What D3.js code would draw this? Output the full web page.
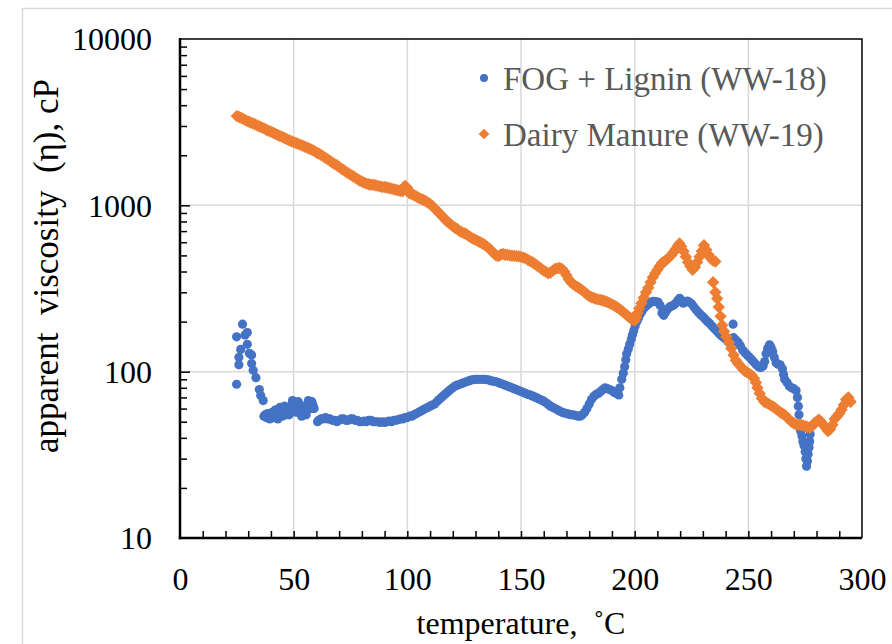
<!DOCTYPE html>
<html>
<head>
<meta charset="utf-8">
<script src="https://cdn.jsdelivr.net/npm/d3@7"></script>
<style>
  body { margin: 0; background: #fff; }
  svg text { font-family: "Liberation Serif", "Times New Roman", serif; white-space: pre; }
</style>
</head>
<body>
<svg id="chart" width="892" height="644"></svg>
<script>
// FOG + Lignin (WW-18): [temperature °C, viscosity cP]
const fogData = [
  [24.9,84],[24.9,162],[25.9,110],[25.9,122],[26.7,136],[27.5,193],[28.6,166],[29.6,172],[29.6,146],[30.5,129],
  [31.5,126],[31.5,112],[32.2,102],[33.4,92],[34.9,78],[35.5,72],[36.6,67],[36.9,54],
  [37.5,55],[38,53],[38.5,56],[39,54],[39.5,52],[40,55],[40.5,57],[41,53],[41.5,56],[42,59],[42.5,54],[43,52],
  [43.5,57],[44,61],[44.5,56],[45,54],[45.5,58],[46,62],[46.5,55],[47,57],[47.5,60],[48,55],[48.5,58],[49,63],
  [49.5,67],[50,65],[50.5,60],[51,57],[51.5,62],[52,66],[52.5,60],[53,56],[53.5,54],[54,58],[54.5,62],[55,57],
  [55.5,55],[56,62],[56.5,67],[57,64],[57.5,60],[58,66],[58.5,63],[59,60],
  [60.5,50],[61,51],[62,52],[63,52],[64,53],[65,52],[66,52],[67,51],[68,51],[69,50],[70,51],[71,52],[72,52],
  [73,51],[74,51],[75,52],[76,52],[77,51],[78,51],[79,50],[80,50],[81,50.5],[82,50],[83,51],[84,51],[85,50],
  [86,50],[87,50],[88,49.5],[89,50],[90,49.5],[91,50],[92,50.5],[93,50],[94,51],[95,51],[96,51.5],[97,52],
  [98,52],[99,53],[100,53],[101,54],[102,54],[103,55],[104,56],[105,57],[106,58],[107,59],[108,60],[109,61],
  [110,62],[111,63],[112,64],[113,66],[114,68],[115,70],[116,72],[117,74],[118,76],[119,78],[120,80],[121,82],
  [122,83],[123,84],[124,85],[125,86],[126,87],[127,88],[128,89],[129,89.5],[130,90],[131,90],[132,90],[133,90],
  [134,90],[135,89.5],[136,89],[137,88],[138,87.5],[139,87],[140,86],[141,85],[142,84],[143,83],[144,82],[145,81],
  [146,80],[147,79],[148,78],[149,77],[150,76],[151,75],[152,74],[153,73],[154,72.5],[155,71.5],[156,70.5],
  [157,69.5],[158,68.5],[159,67.5],[160,66.5],[161,65],[162,63.5],[163,62],[164,61],[165,60],[166,59],[167,58],
  [168,57],[169,56.5],[170,56],[171,55.5],[172,55],[173,55],[174,54.5],[175,54],[176,54],[177,55],[178,57],
  [179,60],[180,64],[181,68],[182,71],[183,73],[184,74],[185,76],[186,78],[187,80],[188,79],[189,78],[190,77],
  [191,75],[192,74],[193,72.5],[193.5,80],[194.3,90],[195,98],[195.6,107],[196.1,118],[196.5,128],[197.2,137],
  [197.8,146],[198.5,156],[199,166],[199.6,176],[200.2,188],[201,200],[201.7,210],[202.5,222],[203.3,232],
  [204.3,242],[205.3,250],[206.3,256],[207.3,262],[208.3,265],[209.3,264],[210.3,262],[211.2,250],[212,225],
  [212.8,218],[213.6,228],[214.5,238],[215.4,245],[216.3,248],[217.2,252],[218.1,258],[219,268],[219.8,276],
  [220.6,268],[221.4,258],[222.2,262],[223.1,266],[224,262],[225,256],[226,246],[227,236],[228,228],[229,220],
  [230,214],[231,207],[232,200],[233,195],[234,188],[235,182],[236,176],[237,170],[238,165],[239,161],[240,157],
  [241,152],[242,147],[243.3,193],[243.5,160],[244.5,155],[245.5,150],[246.5,143],[247.5,135],[248.5,130],
  [249.5,126],[250.5,122],[251.5,118],[252.5,114],[253.5,110],[254.5,107],[255.5,106],[256.5,108],[257.2,115],
  [257.8,128],[258.5,138],[259.3,145],[260,140],[260.7,132],[261.4,122],[262.2,113],[263,111],[264,110],
  [265,104],[265.5,96],[266,90],[267,86],[268,82],[269,80],[270,79],[271,77],[271.6,70],[272,62],[272.3,55],
  [272.6,48],[273,44],[273.6,41],[274,38],[274.5,36],[275,33],[275.3,30],[275.6,27],[276,29],[276.3,32],
  [276.7,35],[277,38],[277.2,42]
];

// Dairy Manure (WW-19): [temperature °C, viscosity cP]
const manureData = [
  [25,3440],[26,3400],[27,3350],[28,3300],[29,3240],[30,3190],[31,3150],[32,3110],[33,3070],[34,3020],[35,2980],
  [36,2940],[37,2900],[38,2850],[39,2810],[40,2770],[41,2730],[42,2690],[43,2650],[44,2610],[45,2580],[46,2540],
  [47,2500],[48,2460],[49,2430],[50,2400],[51,2370],[52,2340],[53,2310],[54,2280],[55,2250],[56,2220],[57,2190],
  [58,2160],[59,2120],[60,2080],[61,2050],[62,2010],[63,1970],[64,1930],[65,1890],[66,1850],[67,1810],[68,1770],
  [69,1740],[70,1700],[71,1660],[72,1630],[73,1590],[74,1560],[75,1530],[76,1500],[77,1470],[78,1440],[79,1410],
  [80,1390],[81,1370],[82,1350],[83,1340],[84,1330],[85,1330],[86,1320],[87,1310],[88,1300],[89,1290],[90,1290],
  [91,1280],[92,1270],[93,1260],[94,1250],[95,1240],[96,1230],[97,1220],[98,1220],[99,1310],[100,1270],[101,1180],
  [102,1170],[103,1150],[104,1130],[105,1110],[106,1090],[107,1080],[108,1060],[109,1040],[110,1020],[111,990],
  [112,960],[113,930],[114,900],[115,870],[116,840],[117,810],[118,790],[119,770],[120,750],[121,730],[122,720],
  [123,700],[124,690],[125,680],[126,670],[127,655],[128,640],[129,630],[130,620],[131,610],[132,600],[133,590],
  [134,580],[135,565],[136,550],[137,535],[138,515],[139,500],[140,495],[141,505],[142,510],[143,505],[144,505],
  [145,500],[146,498],[147,497],[148,495],[149,493],[150,490],[151,485],[152,480],[153,470],[154,462],[155,455],
  [156,445],[157,435],[158,425],[159,415],[160,405],[161,398],[162,390],[163,395],[164,405],[165,415],[166,418],
  [167,420],[168,415],[169,400],[170,380],[171,360],[172,345],[173,335],[174,328],[175,322],[176,315],[177,308],
  [178,300],[179,292],[180,285],[181,280],[182,277],[183,274],[184,272],[185,270],[186,268],[187,265],[188,262],
  [189,258],[190,254],[191,250],[192,245],[193,240],[194,234],[195,228],[196,222],[197,216],[198,210],[199,206],
  [200,203],[200.7,212],[201.3,225],[202,240],[203,258],[204,278],[205,300],[206,320],[207,345],[208,370],
  [209,390],[210,410],[211,430],[212,450],[213,460],[214,470],[215,485],[216,500],[217,520],[218,545],[219,570],
  [219.7,590],[220.5,565],[221.5,530],[222.5,490],[223.5,455],[224.5,430],[225.5,410],[226.5,425],[227.5,455],
  [228.5,490],[229.5,530],[230.5,575],[231.5,540],[232.5,505],[233.5,480],[234.5,465],[235.5,460],[234.5,345],
  [235.5,300],[236.3,275],[237,245],[237.8,215],[238.5,190],[239.3,175],[240.3,162],[241.5,150],[242.5,138],
  [243.5,126],[244.5,117],[245.5,112],[246.5,108],[247.5,104],[248.5,101],[249.5,99],[250.5,97],[251.5,95],
  [252.5,91],[253.3,86],[254,80],[255,74],[256,69],[257,66],[258,65],[259,64],[260,62.5],[261,61.5],[262,60],
  [263,58.5],[264,57],[265,56],[266,55],[267,53],[268,51.5],[269,50],[270,49],[271,48],[272,48],[273,48],
  [274,47.5],[275,47],[276,46.5],[277,46],[278,47],[279,49],[280,50],[281,51.5],[282,50],[283,48],[284,46],
  [285,44],[286,45],[287,48],[288,52],[289,54],[290,56],[291,59],[292,63],[293,68],[294,70],[295,66]
];

const seriesNames = ["FOG + Lignin (WW-18)", "Dairy Manure (WW-19)"];
const seriesColors = ["#4472C4", "#ED7D31"];
const xTicks = [0, 50, 100, 150, 200, 250, 300];
const yTicks = [10, 100, 1000, 10000];

const serif = '"Liberation Serif", "Times New Roman", serif';
const svg = d3.select("#chart");

// outer chart frame
svg.append("rect")
  .attr("x", 22.5).attr("y", 8.5)
  .attr("width", 900).attr("height", 700)
  .attr("fill", "none")
  .attr("stroke", "#d9d9d9")
  .attr("stroke-width", 1.5);

const x = d3.scaleLinear().domain([0, 300]).range([180, 862]);
const y = d3.scaleLog().domain([10, 10000]).range([538, 39]);

// gridlines
svg.append("g")
  .selectAll("line")
  .data(xTicks.slice(1, -1))
  .join("line")
  .attr("x1", d => x(d)).attr("x2", d => x(d))
  .attr("y1", y(10000)).attr("y2", y(10))
  .attr("stroke", "#d9d9d9")
  .attr("stroke-width", 1.5);

svg.append("g")
  .selectAll("line")
  .data(yTicks.slice(1, -1))
  .join("line")
  .attr("x1", x(0)).attr("x2", x(300))
  .attr("y1", d => y(d)).attr("y2", d => y(d))
  .attr("stroke", "#d9d9d9")
  .attr("stroke-width", 1.5);

// plot frame top / right
svg.append("path")
  .attr("d", `M${x(0)},${y(10000)}H${x(300)}V${y(10)}`)
  .attr("fill", "none")
  .attr("stroke", "#000")
  .attr("stroke-width", 1.5);

// minor ticks on y (inside)
const yMinor = [];
[10, 100, 1000].forEach(dec => {
  for (let k = 1; k <= 9; k++) yMinor.push(dec * k);
});
svg.append("g")
  .attr("transform", `translate(${x(0)},0)`)
  .call(d3.axisRight(y).tickValues(yMinor.filter(v => v > 10)).tickFormat("").tickSize(7).tickSizeOuter(0))
  .call(g => g.select(".domain").remove())
  .call(g => g.selectAll(".tick line")
    .attr("stroke-width", 1.5)
    .attr("x2", d => (yTicks.includes(d) ? 10 : 7)));

// minor ticks on x (inside, upward)
svg.append("g")
  .attr("transform", `translate(0,${y(10)})`)
  .call(d3.axisTop(x).tickValues(d3.range(10, 300, 10)).tickFormat("").tickSize(7).tickSizeOuter(0))
  .call(g => g.select(".domain").remove())
  .call(g => g.selectAll(".tick line").attr("stroke-width", 1.5));

// tick labels
svg.append("g")
  .attr("transform", `translate(${x(0)},0)`)
  .call(d3.axisLeft(y).tickValues(yTicks).tickFormat(d3.format("d")).tickSize(0).tickPadding(28))
  .call(g => g.select(".domain").remove())
  .call(g => g.selectAll("text")
    .style("font-family", serif)
    .style("font-size", "32px")
    .attr("fill", "#000")
    .attr("dy", "0.34em"));

svg.append("g")
  .attr("transform", `translate(0,${y(10)})`)
  .call(d3.axisBottom(x).tickValues(xTicks).tickSize(0).tickPadding(29))
  .call(g => g.select(".domain").remove())
  .call(g => g.selectAll("text")
    .style("font-family", serif)
    .style("font-size", "32px")
    .attr("fill", "#000"));

// main axis lines
svg.append("line")
  .attr("x1", x(0)).attr("x2", x(0))
  .attr("y1", y(10000) - 1).attr("y2", y(10) + 1.2)
  .attr("stroke", "#000").attr("stroke-width", 2.5);
svg.append("line")
  .attr("x1", x(0) - 1.2).attr("x2", x(300))
  .attr("y1", y(10)).attr("y2", y(10))
  .attr("stroke", "#000").attr("stroke-width", 2.5);

// series
const diamond = d3.symbol().type(d3.symbolDiamond2).size(98);
const dotR = 4.6;

svg.append("g")
  .selectAll("circle")
  .data(fogData)
  .join("circle")
  .attr("cx", d => x(d[0]))
  .attr("cy", d => y(d[1]))
  .attr("r", dotR)
  .attr("fill", seriesColors[0]);

svg.append("g")
  .selectAll("path")
  .data(manureData)
  .join("path")
  .attr("d", diamond)
  .attr("transform", d => `translate(${x(d[0])},${y(d[1])})`)
  .attr("fill", seriesColors[1]);

// axis titles
svg.append("text")
  .attr("x", 521).attr("y", 634)
  .attr("text-anchor", "middle")
  .style("font-size", "32px")
  .text("temperature,  \u02DAC");

svg.append("text")
  .attr("transform", "translate(58,266) rotate(-90)")
  .attr("text-anchor", "middle")
  .style("font-size", "35px")
  .text("apparent  viscosity  (\u03B7), cP");

// legend
const legend = svg.append("g")
  .selectAll("g")
  .data(seriesNames)
  .join("g")
  .attr("transform", (d, i) => `translate(484,${78 + i * 56})`);

legend.filter((d, i) => i === 0).append("circle")
  .attr("r", 4)
  .attr("fill", seriesColors[0]);
legend.filter((d, i) => i === 1).append("path")
  .attr("d", d3.symbol().type(d3.symbolDiamond2).size(72))
  .attr("fill", seriesColors[1]);

legend.append("text")
  .attr("x", 19)
  .attr("y", 12)
  .style("font-size", "33px")
  .attr("fill", "#595959")
  .text(d => d);
</script>
</body>
</html>
